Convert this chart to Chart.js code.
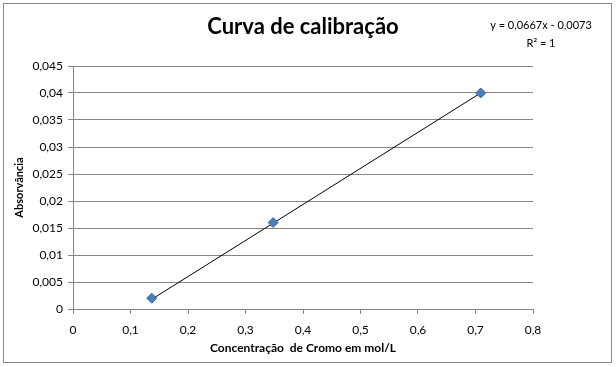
<!DOCTYPE html>
<html>
<head>
<meta charset="utf-8">
<script src="https://cdn.jsdelivr.net/npm/chart.js@4"></script>
<style>
  html, body { margin: 0; padding: 0; background: #ffffff; }
  #wrap { width: 616px; height: 367px; position: relative; }
</style>
</head>
<body>
<div id="wrap"><canvas id="chart" width="616" height="367"></canvas></div>
<script>
// Curva de calibração

const concentracao = [0.137, 0.348, 0.709];
const absorvancia = [0.002, 0.016, 0.040];

// trendline end points (Excel linear trend, drawn over the data range)
const trendX = [0.137, 0.709];
const trendY = [0.0018, 0.0400];

const equationLines = ['y = 0,0667x - 0,0073', 'R² = 1'];

const FONT = 'Lato, "Open Sans", sans-serif';
const GRID = '#868686';

function fmt(v) {
  return Number(v.toFixed(3)).toString().replace('.', ',');
}

// outer frame + equation label
const extras = {
  id: 'extras',
  beforeDraw(chart) {
    const ctx = chart.ctx;
    ctx.save();
    ctx.fillStyle = '#ffffff';
    ctx.fillRect(0, 0, chart.width, chart.height);
    ctx.strokeStyle = GRID;
    ctx.lineWidth = 1;
    ctx.strokeRect(3.5, 3.5, chart.width - 8, chart.height - 8);
    ctx.restore();
  },
  afterDraw(chart) {
    const ctx = chart.ctx;
    const cx = chart.chartArea.right + 8;
    ctx.save();
    ctx.fillStyle = '#000000';
    ctx.font = '11px ' + FONT;
    ctx.textAlign = 'center';
    ctx.textBaseline = 'middle';
    ctx.fillText(equationLines[0], cx, 25);
    ctx.fillText(equationLines[1], cx, 43);
    ctx.restore();
  }
};

new Chart(document.getElementById('chart'), {
  type: 'scatter',
  data: {
    datasets: [
      {
        label: 'Absorvância',
        data: concentracao.map((x, i) => ({ x: x, y: absorvancia[i] })),
        pointStyle: 'rectRot',
        pointRadius: 5,
        pointHoverRadius: 5,
        backgroundColor: '#4a7ebb',
        borderColor: '#3c6aa3',
        borderWidth: 1,
        order: 1
      },
      {
        label: 'Tendência',
        data: trendX.map((x, i) => ({ x: x, y: trendY[i] })),
        showLine: true,
        borderColor: '#000000',
        borderWidth: 1,
        pointRadius: 0,
        order: 2
      }
    ]
  },
  options: {
    responsive: false,
    animation: false,
    layout: { padding: { top: 0, right: 83, bottom: 0, left: 0 } },
    plugins: {
      legend: { display: false },
      tooltip: { enabled: false },
      title: {
        display: true,
        fullSize: false,
        text: 'Curva de calibração',
        color: '#000000',
        font: { family: FONT, size: 22, weight: 'bold', lineHeight: 1.2 },
        padding: { top: 14, bottom: 25.6 }
      }
    },
    scales: {
      x: {
        type: 'linear',
        min: 0,
        max: 0.8,
        afterFit(scale) { scale.height = 58; },
        ticks: {
          stepSize: 0.1,
          color: '#000000',
          padding: 9,
          font: { family: FONT, size: 12 },
          callback: v => fmt(v)
        },
        grid: { drawOnChartArea: false, drawTicks: true, tickLength: 5, color: GRID },
        border: { color: GRID },
        title: {
          display: true,
          text: 'Concentração  de Cromo em mol/L',
          color: '#000000',
          font: { family: FONT, size: 12, weight: 'bold' },
          padding: { top: 0, bottom: 12 }
        }
      },
      y: {
        type: 'linear',
        min: 0,
        max: 0.045,
        afterFit(scale) { scale.width = 73; },
        ticks: {
          stepSize: 0.005,
          color: '#000000',
          padding: 5,
          font: { family: FONT, size: 12 },
          callback: v => fmt(v)
        },
        grid: { color: GRID, tickLength: 5 },
        border: { color: GRID },
        title: {
          display: true,
          text: 'Absorvância',
          color: '#000000',
          font: { family: FONT, size: 11, weight: 'bold' },
          padding: { top: 13, bottom: 0 }
        }
      }
    }
  },
  plugins: [extras]
});
</script>
</body>
</html>
